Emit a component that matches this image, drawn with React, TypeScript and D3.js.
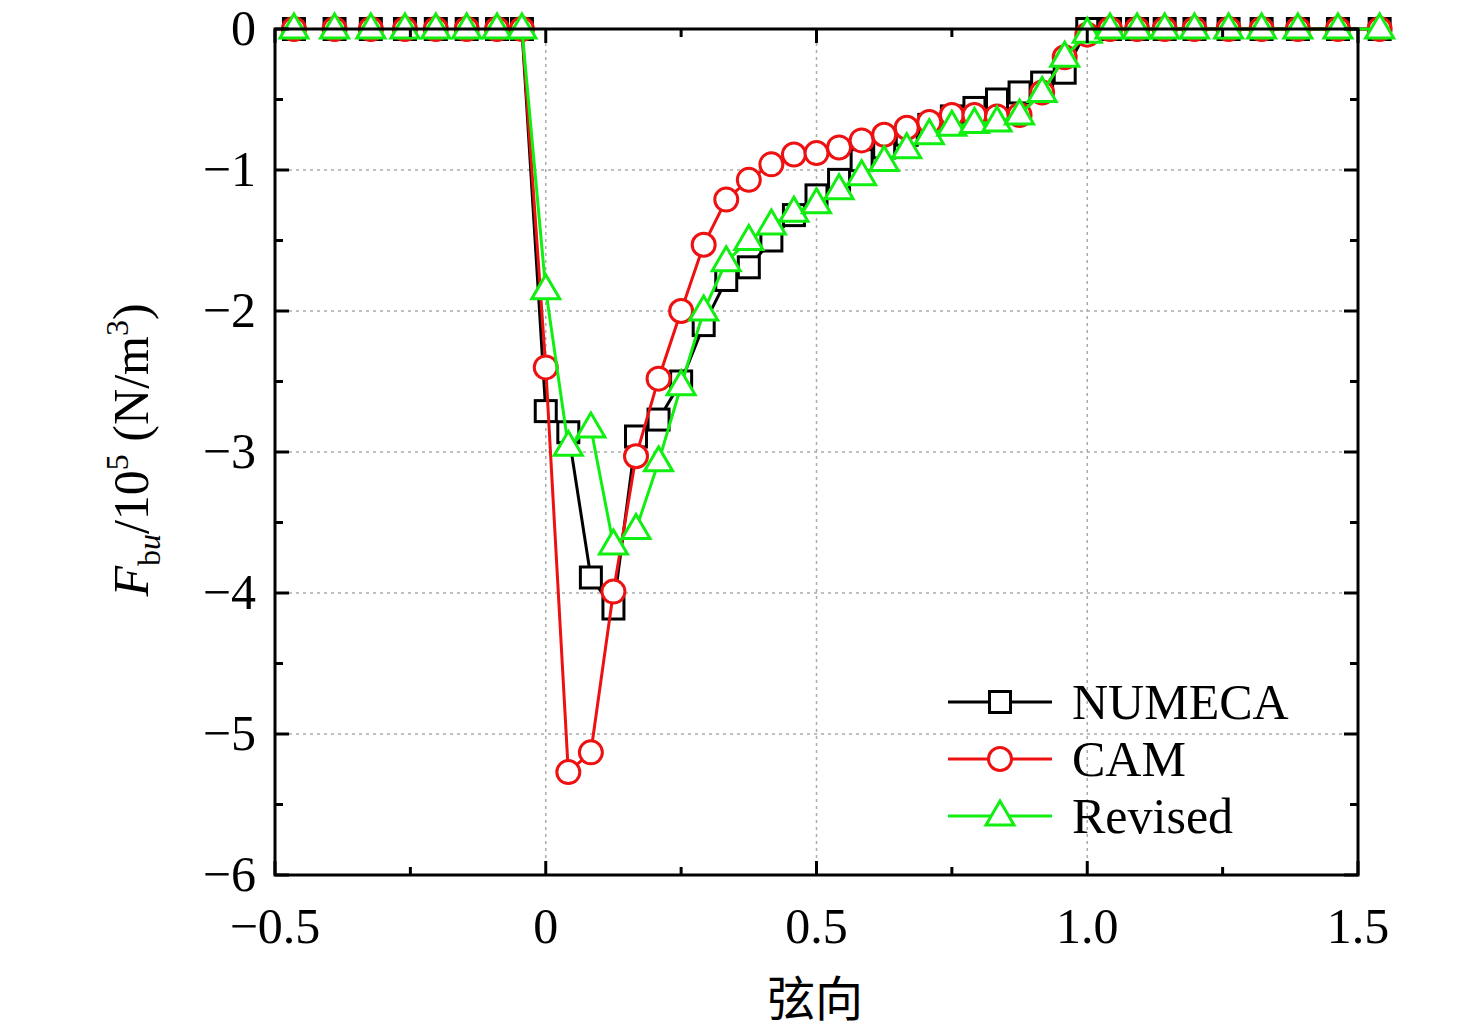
import React from "react";
import * as d3 from "d3";

const xLeft = [-0.465, -0.39, -0.323, -0.26, -0.203, -0.146, -0.09, -0.044];
const xRight = [1.042, 1.092, 1.143, 1.198, 1.261, 1.322, 1.389, 1.463, 1.54];
const idx = d3.range(25);
const xMid = idx.map((i) => i / 24);
const numecaMid = [-2.71, -2.86, -3.89, -4.11, -2.89, -2.77, -2.5, -2.1, -1.78, -1.69, -1.5, -1.32, -1.18, -1.07, -0.93, -0.84, -0.75, -0.68, -0.62, -0.56, -0.5, -0.45, -0.38, -0.31, 0];
const camMid = [-2.4, -5.27, -5.13, -3.99, -3.03, -2.48, -2.0, -1.53, -1.21, -1.07, -0.96, -0.89, -0.88, -0.84, -0.79, -0.75, -0.7, -0.66, -0.61, -0.61, -0.62, -0.61, -0.45, -0.2, -0.04];
const revMid = [-1.85, -2.96, -2.83, -3.66, -3.55, -3.07, -2.53, -2.0, -1.65, -1.5, -1.39, -1.3, -1.24, -1.14, -1.04, -0.94, -0.85, -0.75, -0.69, -0.67, -0.66, -0.61, -0.45, -0.2, -0.03];
const xTicks = [-0.5, 0, 0.5, 1.0, 1.5];
const xTickLabels = ["\u22120.5", "0", "0.5", "1.0", "1.5"];
const yTicks = [0, -1, -2, -3, -4, -5, -6];

const build = (mid: number[]) => [
  ...xLeft.map((x) => [x, 0] as [number, number]),
  ...xMid.map((x, i) => [x, mid[i]] as [number, number]),
  ...xRight.map((x) => [x, 0] as [number, number]),
];

const series = [
  { name: "NUMECA", color: "#000", marker: "square", data: build(numecaMid) },
  { name: "CAM", color: "#ee1111", marker: "circle", data: build(camMid) },
  { name: "Revised", color: "#11ee11", marker: "triangle", data: build(revMid) },
];

const L = 275, R = 1358, T = 29, B = 875;
const x = d3.scaleLinear().domain([-0.5, 1.5]).range([L, R]);
const y = d3.scaleLinear().domain([-6, 0]).range([B, T]);
const font = "'Liberation Serif', 'Times New Roman', serif";

function Marker({ type, cx, cy, color }: any) {
  const s = 10.5;
  if (type === "square") return <rect x={cx - s} y={cy - s} width={2 * s} height={2 * s} fill="white" stroke={color} strokeWidth={3} />;
  if (type === "circle") return <circle cx={cx} cy={cy} r={11.5} fill="white" stroke={color} strokeWidth={3} />;
  return <path d={`M${cx},${cy - 15}L${cx + 14},${cy + 9}L${cx - 14},${cy + 9}Z`} fill="white" stroke={color} strokeWidth={3} />;
}

export default function App() {
  const line = d3.line<[number, number]>().x((d) => x(d[0])).y((d) => y(d[1]));
  const minorX = d3.range(-0.5, 1.501, 0.25);
  const minorY = d3.range(-6, 0.001, 0.5);
  return (
    <svg width={1476} height={1032} style={{ position: "absolute", left: 0, top: 0 }} fontFamily={font}>
      <rect width={1476} height={1032} fill="white" />
      {xTicks.slice(1, -1).map((t) => (
        <line key={t} x1={x(t)} x2={x(t)} y1={T} y2={B} stroke="#aaa" strokeWidth={1.5} strokeDasharray="3,4" />
      ))}
      {yTicks.slice(1, -1).map((t) => (
        <line key={t} x1={L} x2={R} y1={y(t)} y2={y(t)} stroke="#aaa" strokeWidth={1.5} strokeDasharray="3,4" />
      ))}
      {series.map((s) => (
        <g key={s.name}>
          <path d={line(s.data.slice(7)) || ""} fill="none" stroke={s.color} strokeWidth={3} />
          {s.data.map((d, i) => (
            <Marker key={i} type={s.marker} cx={x(d[0])} cy={y(d[1])} color={s.color} />
          ))}
        </g>
      ))}
      <rect x={L} y={T} width={R - L} height={B - T} fill="none" stroke="#000" strokeWidth={3} />
      {minorX.map((t) => {
        const len = xTicks.includes(Math.round(t * 100) / 100) ? 14 : 8;
        return (
          <g key={t}>
            <line x1={x(t)} x2={x(t)} y1={B} y2={B - len} stroke="#000" strokeWidth={3} />
            <line x1={x(t)} x2={x(t)} y1={T} y2={T + len} stroke="#000" strokeWidth={3} />
          </g>
        );
      })}
      {minorY.map((t) => {
        const len = Number.isInteger(t) ? 14 : 8;
        return (
          <g key={t}>
            <line x1={L} x2={L + len} y1={y(t)} y2={y(t)} stroke="#000" strokeWidth={3} />
            <line x1={R} x2={R - len} y1={y(t)} y2={y(t)} stroke="#000" strokeWidth={3} />
          </g>
        );
      })}
      {xTicks.map((t, i) => (
        <text key={t} x={x(t)} y={943} fontSize={50} textAnchor="middle">{xTickLabels[i]}</text>
      ))}
      {yTicks.map((t) => (
        <text key={t} x={256} y={y(t) + 16} fontSize={50} textAnchor="end">{t === 0 ? "0" : "\u2212" + Math.abs(t)}</text>
      ))}
      <text x={815} y={1016} fontSize={48} textAnchor="middle" fontFamily="'Noto Sans CJK SC', serif">弦向</text>
      <text transform="translate(148,450) rotate(-90)" fontSize={50} textAnchor="middle">
        <tspan fontStyle="italic">F</tspan>
        <tspan fontSize={32} dy={12}>b</tspan>
        <tspan fontSize={32} fontStyle="italic">u</tspan>
        <tspan dy={-12}>/10</tspan>
        <tspan fontSize={32} dy={-20}>5</tspan>
        <tspan dy={20}> (N/m</tspan>
        <tspan fontSize={32} dy={-20}>3</tspan>
        <tspan dy={20}>)</tspan>
      </text>
      {series.map((s, i) => {
        const ly = 702 + i * 57;
        return (
          <g key={s.name}>
            <line x1={948} x2={1052} y1={ly} y2={ly} stroke={s.color} strokeWidth={3} />
            <Marker type={s.marker} cx={1000} cy={ly} color={s.color} />
            <text x={1072} y={ly + 17} fontSize={50}>{s.name}</text>
          </g>
        );
      })}
    </svg>
  );
}
